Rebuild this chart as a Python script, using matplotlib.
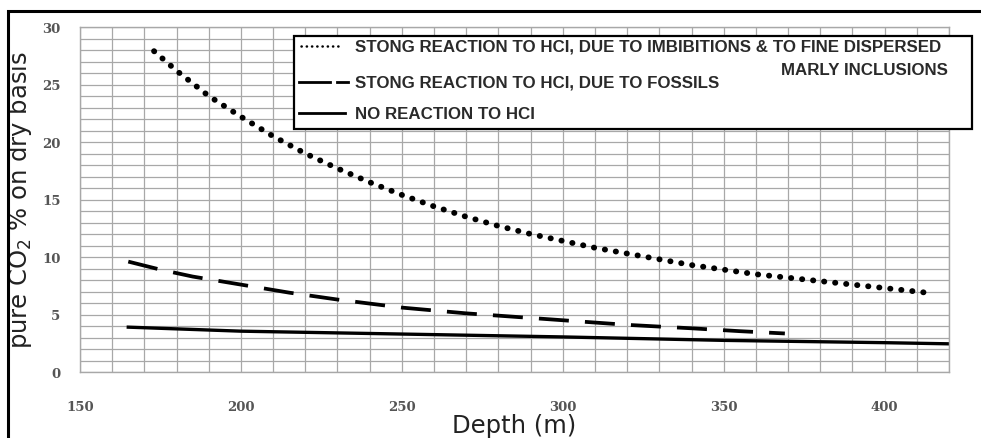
import matplotlib
matplotlib.use("Agg")
import matplotlib.pyplot as plt
from matplotlib.patches import Rectangle
from matplotlib.lines import Line2D

# values
depth_imbib = [173, 180, 190, 200, 210, 220, 230, 240, 250, 260, 270, 280, 290,
               300, 310, 320, 330, 340, 350, 360, 370, 380, 390, 400, 413]
co2_imbib = [27.9, 26.2, 24.0, 22.2, 20.5, 19.0, 17.7, 16.5, 15.4, 14.4, 13.5, 12.7,
             12.0, 11.4, 10.8, 10.3, 9.8, 9.3, 8.9, 8.5, 8.2, 7.9, 7.6, 7.3, 6.9]

depth_fossil = [165, 175, 185, 200, 215, 230, 250, 270, 290, 300, 320, 340, 355, 369]
co2_fossil = [9.6, 8.9, 8.3, 7.6, 6.9, 6.3, 5.6, 5.1, 4.7, 4.5, 4.1, 3.8, 3.55, 3.35]

depth_none = [165, 200, 250, 300, 350, 400, 420]
co2_none = [3.9, 3.55, 3.3, 3.05, 2.75, 2.55, 2.45]

legend_labels = ["STONG REACTION TO HCI, DUE TO IMBIBITIONS & TO FINE DISPERSED",
                 "STONG REACTION TO HCI, DUE TO FOSSILS",
                 "NO REACTION TO HCI"]
legend_extra = "MARLY INCLUSIONS"

x_ticks = [150, 200, 250, 300, 350, 400]
y_ticks = [0, 5, 10, 15, 20, 25, 30]

grid_col = "#a8a8a8"
tick_col = "#555555"

fig = plt.figure(figsize=(9.81, 4.39), dpi=100)
ax = fig.add_axes([80 / 981, 1 - 373 / 439, 869 / 981, 345 / 439])

ax.plot(depth_imbib, co2_imbib, color="black", lw=4.2,
        linestyle=(0, (0.05, 1.85)), dash_capstyle="round")
ax.plot(depth_fossil, co2_fossil, color="black", lw=2.7, linestyle=(0, (8.0, 4.3)))
ax.plot(depth_none, co2_none, color="black", lw=2.4)

ax.set_xlim(150, 420)
ax.set_ylim(0, 30)
ax.set_xticks(x_ticks)
ax.set_xticks(range(150, 421, 10), minor=True)
ax.set_yticks(y_ticks)
ax.set_yticks(range(0, 31), minor=True)
ax.grid(True, which="both", color=grid_col, lw=0.9)
ax.set_axisbelow(True)
ax.tick_params(which="both", length=0)
ax.tick_params(axis="x", pad=20)
ax.tick_params(axis="y", pad=14)
for lab in ax.get_xticklabels() + ax.get_yticklabels():
    lab.set_family("DejaVu Serif")
    lab.set_fontweight("bold")
    lab.set_fontsize(9.5)
    lab.set_color(tick_col)
for sp in ax.spines.values():
    sp.set_color(grid_col)
    sp.set_linewidth(1.0)

ax.set_xlabel("Depth (m)", fontsize=17.5, color="#222222", labelpad=0)
ax.set_ylabel("pure CO$_2$ % on dry basis", fontsize=17.5, color="#222222", labelpad=6)

# legend box drawn by hand (it pokes out past the right of the axes)
ax.add_patch(Rectangle((0.246, 0.704), 0.78, 0.27, transform=ax.transAxes,
                       facecolor="white", edgecolor="black", lw=1.6,
                       clip_on=False, zorder=5))
rows = [0.945, 0.840, 0.750]
ax.add_line(Line2D([0.254, 0.299], [rows[0]] * 2, transform=ax.transAxes, color="black",
                   lw=1.8, linestyle=(0, (0.1, 2.0)), dash_capstyle="round",
                   clip_on=False, zorder=6))
ax.add_line(Line2D([0.252, 0.288], [rows[1]] * 2, transform=ax.transAxes, color="black",
                   lw=2.0, clip_on=False, zorder=6))
ax.add_line(Line2D([0.296, 0.308], [rows[1]] * 2, transform=ax.transAxes, color="black",
                   lw=2.0, clip_on=False, zorder=6))
ax.add_line(Line2D([0.252, 0.305], [rows[2]] * 2, transform=ax.transAxes, color="black",
                   lw=2.0, clip_on=False, zorder=6))
for y, lab in zip(rows, legend_labels):
    ax.text(0.316, y, lab, transform=ax.transAxes, fontsize=12.2, fontweight="bold",
            family="Liberation Sans", color="#2a2a2a", va="center", ha="left",
            zorder=7, clip_on=False)
ax.text(0.999, 0.878, legend_extra, transform=ax.transAxes, fontsize=12.2,
        fontweight="bold", family="Liberation Sans", color="#2a2a2a",
        va="center", ha="right", zorder=7, clip_on=False)

# black frame around the whole picture, running off the right and bottom
fig.patches.append(Rectangle((8 / 981, -0.2), 1.2, 1.2 - 12 / 439, transform=fig.transFigure,
                             fill=False, edgecolor="black", lw=2.2))

fig.savefig("out.png", dpi=100)
